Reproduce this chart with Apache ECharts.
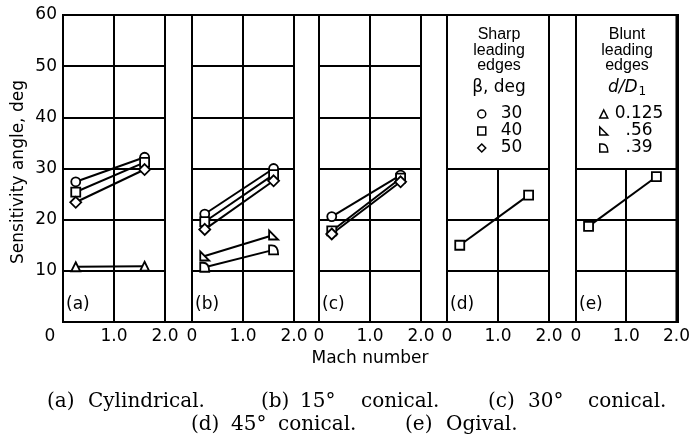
<!DOCTYPE html>
<html><head><meta charset="utf-8">
<script src="https://cdn.jsdelivr.net/npm/echarts@6/dist/echarts.min.js"></script>
<style>html,body{margin:0;padding:0;background:#fff}#c{width:693px;height:437px}</style>
</head><body><div id="c"></div><script>
// ---- data ----
const panelNames = ['(a)', '(b)', '(c)', '(d)', '(e)'];
const mach = [0.25, 1.6];
const xTicks = [0, 1, 2];
const yTicks = [0, 10, 20, 30, 40, 50, 60];
// Sensitivity angle, deg  (start, end)
const a30 = [27.4, 32.2], a40 = [25.4, 31.2], a50 = [23.4, 29.8], a0125 = [10.8, 10.9];
const b30 = [21.1, 30.0], b40 = [19.6, 28.8], b50 = [18.1, 27.6], b056 = [12.9, 17.0], b039 = [10.7, 14.1];
const c30 = [20.6, 28.7], c40 = [17.8, 28.1], c50 = [17.2, 27.4];
const d40 = [15.0, 24.8];
const e40 = [18.7, 28.4];
const sharpNames = ['30', '40', '50'];
const bluntNames = ['0.125', '.56', '.39'];
const captions1 = [['(a)', 'Cylindrical.'], ['(b)', '15°', 'conical.'], ['(c)', '30°', 'conical.']];
const captions2 = [['(d)', '45°', 'conical.'], ['(e)', 'Ogival.']];

// ---- layout ----
const lefts = [63, 192, 319, 447, 576];
const W = 102, TOP = 15, H = 307;
const FONT = 'DejaVu Sans';
const symbols = {
  '30': 'circle', '40': 'rect', '50': 'diamond', '0.125': 'triangle',
  '.56': 'path://M0,0 L0,10 L10,10 Z',
  '.39': 'path://M0,10 L0,0 L3,0 C8,0 10,4 10,10 Z'
};

const grids = lefts.map(l => ({left: l, top: TOP, width: W, height: H, show: true,
  borderColor: '#000', borderWidth: 2, backgroundColor: 'transparent'}));
grids.push({left: lefts[0], top: TOP, width: lefts[4] + W - lefts[0], height: H, show: true,
  borderColor: '#000', borderWidth: 2, backgroundColor: 'transparent'});

const xAxes = lefts.map((l, i) => ({
  type: 'value', gridIndex: i, min: 0, max: 2, interval: 1,
  axisLine: {show: false}, axisTick: {show: false},
  splitLine: {show: i < 3, lineStyle: {color: '#000', width: 2}},
  axisLabel: {show: true, showMinLabel: true, showMaxLabel: true, margin: 6,
    fontFamily: FONT, fontSize: 17, color: '#000',
    formatter: v => v === 0 ? (i === 0 ? '{z|0}' : '0') : v.toFixed(1),
    rich: {z: {fontFamily: FONT, fontSize: 17, color: '#000', padding: [0, 26, 0, 0]}}}
}));
xAxes.push({type: 'value', gridIndex: 5, min: 0, max: 1, show: false});

const yAxes = lefts.map((l, i) => ({
  type: 'value', gridIndex: i, min: 0, max: 60, interval: 10,
  axisLine: {show: false}, axisTick: {show: false},
  splitLine: {show: true, lineStyle: {width: 2,
    color: i >= 3 ? ['#000', '#000', '#000', '#000', 'transparent', 'transparent', '#000'] : '#000'}},
  axisLabel: {show: i === 0, margin: 6, fontFamily: FONT, fontSize: 17, color: '#000',
    formatter: v => v === 0 ? '' : String(v)}
}));
yAxes.push({type: 'value', gridIndex: 5, min: 0, max: 1, show: false});

function mk(name, gi, vals) {
  return {
    type: 'line', name: name, xAxisIndex: gi, yAxisIndex: gi,
    data: mach.map((m, k) => [m, vals[k]]),
    symbol: symbols[name], symbolSize: name === '50' ? 11 : 9,
    showAllSymbol: true, animation: false, silent: true,
    lineStyle: {color: '#000', width: 2},
    itemStyle: {color: '#fff', borderColor: '#000', borderWidth: 1.8},
    z: 3
  };
}
const series = [
  mk('30', 0, a30), mk('40', 0, a40), mk('50', 0, a50), mk('0.125', 0, a0125),
  mk('30', 1, b30), mk('40', 1, b40), mk('50', 1, b50), mk('.56', 1, b056), mk('.39', 1, b039),
  mk('30', 2, c30), mk('40', 2, c40), mk('50', 2, c50),
  mk('40', 3, d40),
  mk('40', 4, e40)
];
[3, 4].forEach(gi => series.push({
  type: 'line', name: 'grid' + gi, xAxisIndex: gi, yAxisIndex: gi, data: [], silent: true, animation: false,
  markLine: {silent: true, symbol: 'none', label: {show: false}, animation: false,
    lineStyle: {color: '#000', width: 2, type: 'solid'},
    data: [[{coord: [xTicks[1], yTicks[0]]}, {coord: [xTicks[1], yTicks[3]]}]]}
}));

const legendCommon = {
  orient: 'vertical', itemGap: 0, itemWidth: 8, itemHeight: 8, padding: 0,
  selectedMode: false,
  itemStyle: {color: '#fff', borderColor: '#000', borderWidth: 1.5},
  textStyle: {fontFamily: FONT, fontSize: 17, color: '#000', lineHeight: 13}
};
const legends = [
  Object.assign({}, legendCommon, {left: 477, top: 105.5,
    data: sharpNames.map(n => ({name: n, icon: symbols[n]})),
    formatter: n => '{t|' + n + '}',
    textStyle: Object.assign({}, legendCommon.textStyle, {rich: {t: {fontFamily: FONT, fontSize: 17, lineHeight: 13, color: '#000', padding: [0, 0, 0, 10]}}})}),
  Object.assign({}, legendCommon, {left: 599, top: 105.5,
    data: bluntNames.map(n => ({name: n, icon: symbols[n]})),
    formatter: n => '{t|' + (n === '0.125' ? n : '\u2007' + n) + '}',
    textStyle: Object.assign({}, legendCommon.textStyle, {rich: {t: {fontFamily: FONT, fontSize: 17, lineHeight: 13, color: '#000', padding: [0, 0, 0, 2]}}})})
];

const txt = (x, y, text, extra) => ({type: 'text', x: x, y: y, silent: true, z: 10,
  style: Object.assign({text: text, fill: '#000', font: '16px "Liberation Sans"', align: 'center', verticalAlign: 'middle'}, extra || {})});

const graphics = [
  // y-axis title
  {type: 'text', x: 19, y: 172, rotation: Math.PI / 2, silent: true,
   style: {text: 'Sensitivity angle, deg', fill: '#000', font: '17px "DejaVu Sans"', align: 'center', verticalAlign: 'middle'}},
  txt(370, 359, 'Mach number', {font: '17px "DejaVu Sans"'}),
  // legend headings
  txt(499, 35, 'Sharp'), txt(499, 51, 'leading'), txt(499, 66, 'edges'),
  txt(499, 88, 'β, deg', {font: '17px "DejaVu Sans"'}),
  txt(627, 35, 'Blunt'), txt(627, 51, 'leading'), txt(627, 66, 'edges'),
  {type: 'text', x: 627, y: 88, silent: true,
   style: {text: '{i|d/D}{s|1}', align: 'center', verticalAlign: 'middle', fill: '#000',
     rich: {i: {fontFamily: FONT, fontStyle: 'italic', fontSize: 17, fill: '#000'},
            s: {fontFamily: FONT, fontSize: 12, fill: '#000', padding: [7, 0, 0, 1]}}}}
];
// panel letters
panelNames.forEach((p, i) => graphics.push(txt(lefts[i] + 3, 305, p, {font: '17px "DejaVu Sans"', align: 'left'})));
// captions (word groups placed individually)
const cap1x = [[47, 88], [261, 300, 361], [488, 528, 588]];
const cap2x = [[191, 231, 278], [405, 446]];
const capFont = '20px "DejaVu Serif"';
captions1.forEach((c, i) => c.forEach((w, j) => graphics.push(txt(cap1x[i][j], 402, w, {font: capFont, align: 'left'}))));
captions2.forEach((c, i) => c.forEach((w, j) => graphics.push(txt(cap2x[i][j], 425, w, {font: capFont, align: 'left'}))));

const chart = echarts.init(document.getElementById('c'), null, {renderer: 'canvas'});
chart.setOption({
  animation: false,
  backgroundColor: '#fff',
  grid: grids, xAxis: xAxes, yAxis: yAxes,
  legend: legends,
  series: series,
  graphic: graphics
});
</script></body></html>
